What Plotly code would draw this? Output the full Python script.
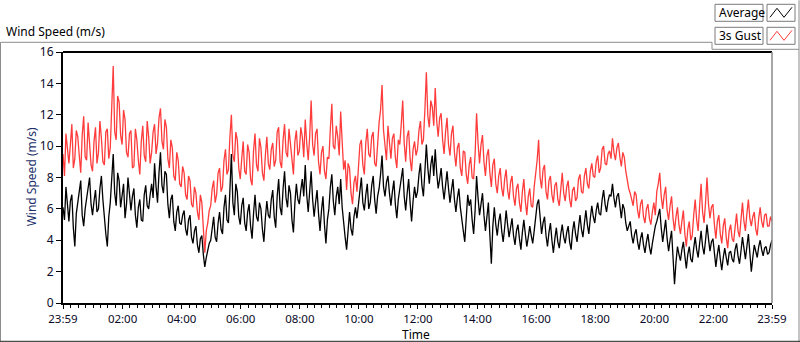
import plotly.graph_objects as go

# ---- data (3-minute samples from 23:59 to 23:59) ----
minutes_step = 3
gust = [
    9.5, 8.1, 10.8, 9.9, 8.9, 10.1, 11.4, 8.6, 9.2, 11.0, 10.6, 9.4, 8.3, 10.7, 11.9, 9.3, 9.1, 11.5, 10.2, 8.8,
    8.4, 10.3, 11.2, 8.9, 9.6, 11.6, 10.5, 9.0, 8.8, 10.9, 11.1, 9.2, 9.9, 12.4, 15.1, 10.9, 10.4, 13.2, 12.8, 10.7,
    10.1, 12.3, 11.7, 9.6, 9.3, 10.8, 11.0, 8.6, 8.7, 11.1, 10.4, 9.1, 8.2, 10.3, 11.3, 9.4, 9.0, 11.6, 10.6, 8.9,
    9.6, 10.9, 11.4, 9.5, 10.2, 11.8, 12.4, 10.3, 9.8, 11.7, 11.2, 9.2, 8.6, 10.4, 9.9, 8.1, 7.8, 9.6, 9.1, 7.6,
    7.4, 8.7, 8.3, 6.9, 6.6, 8.1, 7.8, 6.3, 6.1, 7.4, 7.0, 5.8, 5.3, 6.9, 6.4, 4.8, 3.2, 4.6, 5.1, 5.9,
    6.2, 7.3, 7.8, 6.4, 6.9, 8.3, 8.6, 7.1, 7.4, 9.1, 9.8, 8.2, 8.5, 10.6, 12.0, 9.4, 9.0, 10.9, 10.4, 8.6,
    7.9, 9.2, 10.3, 8.4, 8.2, 10.1, 9.6, 7.9, 7.5, 9.7, 10.8, 8.8, 8.4, 10.5, 9.9, 8.3, 7.8, 9.4, 10.6, 8.9,
    8.5, 9.8, 10.2, 8.7, 9.1, 10.9, 11.2, 9.0, 8.6, 10.4, 11.4, 9.6, 9.3, 11.1, 10.1, 8.8, 8.2, 10.3, 11.0, 9.4,
    9.7, 11.2, 10.6, 9.3, 11.7, 10.2, 9.1, 10.6, 12.9, 10.1, 9.4, 10.8, 11.1, 9.0, 8.2, 9.6, 10.0, 8.4, 7.9, 9.3,
    9.2, 11.1, 12.7, 10.0, 9.8, 11.3, 10.6, 9.4, 12.2, 10.3, 8.5, 9.1, 7.2, 8.9, 8.6, 7.0, 6.3, 7.7, 8.1, 7.1,
    8.9, 10.1, 10.4, 8.8, 8.2, 10.2, 11.1, 9.5, 9.3, 10.6, 10.9, 8.9, 8.7, 10.3, 11.5, 12.3, 13.9, 11.0, 10.2, 9.1,
    11.3, 10.2, 9.2, 10.5, 10.8, 9.3, 8.6, 10.4, 10.1, 11.4, 12.9, 10.2, 9.0, 10.6, 11.0, 9.2, 8.4, 9.8, 10.3, 9.4,
    9.8, 11.0, 11.6, 10.1, 10.4, 12.3, 14.7, 11.9, 11.2, 12.9, 12.5, 11.3, 13.7, 11.6, 10.6, 11.8, 12.1, 10.4, 9.5, 10.9,
    11.8, 10.1, 9.4, 10.8, 11.3, 9.6, 8.7, 9.9, 10.2, 8.6, 8.1, 9.7, 9.6, 8.2, 7.6, 8.8, 9.3, 8.0, 7.9, 9.5,
    12.1, 10.2, 8.9, 10.1, 10.7, 9.0, 8.1, 9.4, 9.8, 8.3, 7.4, 8.8, 9.2, 7.6, 7.0, 8.1, 8.6, 7.3, 6.8, 7.9,
    8.5, 7.2, 6.6, 7.7, 8.1, 6.8, 6.2, 7.3, 7.6, 6.4, 5.8, 7.1, 7.9, 6.5, 5.6, 6.8, 7.3, 6.2, 6.1, 7.4,
    8.2, 9.1, 10.4, 8.0, 7.3, 8.5, 8.8, 7.1, 6.6, 7.8, 8.1, 6.9, 6.4, 7.5, 7.7, 6.6, 6.2, 7.4, 8.3, 7.0,
    6.5, 7.4, 7.8, 6.6, 6.1, 7.2, 7.4, 6.5, 6.7, 7.9, 8.2, 7.1, 7.0, 8.1, 8.6, 7.6, 7.3, 8.4, 8.9, 8.1,
    8.0, 9.0, 9.4, 8.3, 8.6, 9.8, 10.0, 8.9, 8.8, 9.5, 9.7, 9.2, 10.5, 9.6, 9.1, 9.9, 10.2, 9.3, 8.7, 9.6,
    9.3, 8.4, 7.8, 7.3, 7.0, 6.5, 6.2, 7.1, 6.9, 5.9, 5.4, 6.3, 6.6, 5.5, 5.1, 6.0, 6.3, 5.4, 5.0, 5.8,
    6.4, 5.6, 7.1, 7.6, 8.3, 6.8, 6.0, 6.9, 7.4, 5.9, 5.3, 6.2, 6.8, 5.4, 4.6, 5.5, 6.1, 5.0, 4.4, 5.2,
    5.9, 4.4, 3.6, 4.7, 5.2, 4.0, 4.3, 5.6, 6.6, 5.3, 4.6, 6.2, 7.6, 5.8, 5.1, 6.4, 8.0, 6.3, 5.4, 6.1,
    6.3, 5.0, 4.1, 5.2, 5.6, 4.4, 3.8, 4.9, 5.4, 4.2, 3.5, 4.6, 5.0, 4.1, 3.9, 4.8, 5.7, 4.6, 4.2, 5.3,
    6.4, 5.2, 4.6, 5.7, 6.6, 5.4, 4.9, 5.5, 5.8, 4.7, 4.3, 5.4, 6.1, 5.2, 4.8, 5.6, 5.7, 4.9, 4.9, 5.5,
    5.2,
]
average = [
    6.1, 5.3, 7.4, 6.2, 5.2, 6.5, 6.9, 4.8, 3.6, 5.7, 6.3, 7.1, 7.8, 5.6, 4.9, 6.0, 6.6, 7.4, 8.0, 6.3,
    5.6, 6.5, 7.2, 5.8, 6.0, 7.3, 8.1, 6.6, 5.3, 4.4, 3.6, 5.5, 6.4, 7.8, 9.5, 7.0, 6.2, 8.3, 7.8, 6.1,
    6.8, 7.6, 5.4, 6.3, 8.0, 6.7, 5.9, 6.8, 7.3, 5.6, 4.8, 6.1, 6.6, 5.3, 5.2, 6.9, 7.5, 6.2, 6.0, 6.9,
    7.6, 6.7, 8.9, 7.4, 6.4, 8.3, 9.6, 7.5, 7.0, 8.4, 8.2, 6.3, 5.4, 6.6, 6.9, 5.2, 4.6, 5.8, 6.2, 5.1,
    5.0, 5.6, 5.9, 4.7, 4.3, 5.3, 5.6, 4.2, 3.8, 4.6, 4.9, 3.7, 3.2, 4.1, 4.3, 3.1, 2.3, 2.9, 3.4, 3.8,
    4.0, 4.8, 5.5, 4.2, 3.9, 5.1, 5.8, 4.7, 4.4, 6.1, 6.9, 5.3, 5.1, 7.2, 9.5, 6.4, 5.6, 7.6, 7.1, 5.5,
    5.0, 6.2, 6.7, 5.1, 4.6, 5.8, 6.3, 4.9, 4.1, 5.7, 6.9, 5.5, 5.2, 6.4, 6.0, 4.7, 3.9, 5.4, 6.5, 5.6,
    5.4, 6.6, 7.2, 5.5, 4.8, 6.8, 7.9, 6.1, 5.6, 7.3, 8.4, 6.7, 6.1, 7.5, 7.0, 5.3, 4.5, 6.4, 7.6, 6.6,
    6.3, 7.2, 7.9, 6.8, 8.8, 6.9, 5.8, 7.1, 8.4, 6.6, 5.5, 6.4, 7.2, 5.7, 4.6, 5.9, 6.8, 5.0, 3.8, 5.3,
    6.0, 7.4, 8.2, 6.5, 5.6, 6.8, 7.4, 6.3, 7.9, 6.1, 4.9, 4.2, 3.4, 4.8, 5.8, 4.7, 4.3, 5.5, 6.1, 5.4,
    6.2, 7.1, 8.0, 6.4, 5.9, 6.9, 7.6, 6.0, 6.4, 7.5, 8.1, 6.6, 5.7, 6.8, 7.3, 8.2, 9.4, 7.4, 6.8, 7.7,
    8.1, 7.0, 6.2, 7.1, 7.8, 6.3, 5.4, 6.6, 7.2, 7.9, 8.6, 6.8, 5.9, 7.0, 7.9, 6.4, 5.2, 6.5, 7.4, 6.7,
    7.1, 8.2, 8.9, 7.5, 6.8, 8.4, 10.1, 8.6, 7.6, 8.8, 9.4, 8.1, 9.8, 8.3, 7.3, 7.9, 8.6, 7.4, 6.6, 7.5,
    8.4, 7.3, 6.4, 7.2, 7.9, 6.6, 5.8, 6.7, 7.3, 6.1, 5.5, 4.6, 3.9, 5.8, 6.9, 6.2, 6.6, 5.3, 4.4, 5.9,
    8.1, 6.7, 5.6, 6.3, 7.0, 5.6, 4.6, 5.5, 6.4, 4.3, 2.5, 4.9, 6.1, 5.0, 4.3, 5.2, 5.7, 4.6, 3.9, 4.8,
    5.9, 5.0, 4.2, 4.8, 5.4, 4.3, 3.7, 4.6, 5.0, 4.1, 3.4, 4.5, 5.3, 4.4, 3.6, 4.2, 4.9, 4.3, 3.8, 4.6,
    5.7, 6.3, 6.6, 5.2, 4.4, 5.1, 5.5, 4.3, 3.6, 4.5, 5.1, 4.0, 3.2, 4.1, 4.8, 3.9, 3.5, 4.4, 5.0, 4.2,
    3.8, 4.5, 4.9, 3.9, 3.4, 4.6, 5.2, 4.4, 3.9, 4.8, 5.6, 4.7, 4.2, 5.1, 5.9, 5.0, 4.4, 5.4, 6.2, 5.5,
    5.1, 5.9, 6.4, 5.7, 5.6, 6.6, 7.2, 6.3, 5.8, 6.5, 6.9, 6.8, 7.6, 6.7, 6.1, 6.8, 7.0, 6.2, 5.4, 6.3,
    6.0, 5.1, 4.6, 4.9, 5.2, 4.3, 3.8, 4.4, 4.7, 3.9, 3.4, 4.1, 4.5, 3.7, 3.2, 3.9, 4.4, 3.6, 3.1, 3.8,
    4.5, 4.9, 5.2, 5.6, 6.0, 4.8, 3.9, 4.6, 5.3, 4.1, 3.3, 4.0, 4.6, 2.9, 1.2, 2.6, 3.6, 3.1, 2.7, 3.4,
    3.9, 3.0, 2.2, 3.1, 3.6, 2.8, 2.6, 3.5, 4.2, 3.4, 2.9, 3.8, 4.6, 3.6, 3.1, 4.0, 5.0, 4.1, 3.3, 3.9,
    4.1, 3.2, 2.3, 3.1, 3.7, 2.8, 2.1, 2.9, 3.5, 2.9, 2.4, 3.2, 3.3, 2.8, 2.6, 3.4, 3.8, 3.0, 2.5, 3.3,
    4.2, 3.5, 2.8, 3.6, 4.4, 3.2, 2.0, 2.9, 3.7, 3.3, 2.9, 3.6, 4.0, 3.4, 3.0, 3.5, 3.6, 3.1, 3.2, 3.7,
    4.0,
]
tick_minutes = [0, 121, 241, 361, 481, 601, 721, 841, 961, 1081, 1201, 1321, 1440]
tick_labels = ["23:59", "02:00", "04:00", "06:00", "08:00", "10:00", "12:00",
               "14:00", "16:00", "18:00", "20:00", "22:00", "23:59"]
series_names = ["Average", "3s Gust"]

times_g = [i * minutes_step for i in range(len(gust))]
times_a = [i * minutes_step for i in range(len(average))]

W, H = 800, 342
L, R, T, B = 63, 772, 51.7, 302.7
FONT = "Noto Sans"


def px(xp):
    return (xp - L) / (R - L)


def py(yp):
    return (B - yp) / (B - T)


fig = go.Figure()
fig.add_trace(go.Scatter(x=times_g, y=gust, mode="lines", name=series_names[1],
                         line=dict(color="#ff3c3c", width=1.3), showlegend=False))
fig.add_trace(go.Scatter(x=times_a, y=average, mode="lines", name=series_names[0],
                         line=dict(color="#000000", width=1.3), showlegend=False))

fig.update_layout(
    width=W, height=H,
    margin=dict(l=L, r=W - R, t=T, b=H - B, pad=0),
    paper_bgcolor="white", plot_bgcolor="white",
    font=dict(family=FONT, size=12, color="#000000"),
    xaxis=dict(range=[0, 1440], tickvals=tick_minutes, ticktext=tick_labels,
               ticks="outside", ticklen=4, tickwidth=1, tickcolor="#000",
               showgrid=False, zeroline=False, showline=True, linecolor="#000", linewidth=2,
               minor=dict(ticks="outside", ticklen=3, tickcolor="#000", tick0=1, dtick=15,
                          showgrid=False),
               tickfont=dict(size=11.5, family=FONT, color="#0a0a28")),
    yaxis=dict(range=[0, 16], dtick=2, ticks="outside", ticklen=5, tickcolor="#000",
               showgrid=False, zeroline=False, showline=True, linecolor="#000", linewidth=2,
               tickfont=dict(size=12, family=FONT, color="#0a0a28")),
)

shapes = []
shapes.append(dict(type="line", xref="paper", yref="paper", x0=0, x1=1, y0=1, y1=1,
                   line=dict(color="#000", width=2)))
shapes.append(dict(type="line", xref="paper", yref="paper", x0=1, x1=1, y0=0, y1=1,
                   line=dict(color="#8a8a8a", width=1.5)))
gray = "#8c8c8c"
for (x0, y0, x1, y1, c) in [(0.5, 42, 712, 42, gray), (712, 42, 712, 49, gray),
                             (712, 49, 799, 49, gray), (799, 0, 799, 342, gray),
                             (0.5, 42, 0.5, 341, gray), (0, 341, 800, 341, "#222")]:
    shapes.append(dict(type="line", xref="paper", yref="paper",
                       x0=px(x0), x1=px(x1), y0=py(y0), y1=py(y1),
                       line=dict(color=c, width=1)))
legend_rows = [(4, 21, "#000000"), (27, 44, "#ff3c3c")]
for (ya, yb, col) in legend_rows:
    shapes.append(dict(type="rect", xref="paper", yref="paper",
                       x0=px(715), x1=px(763), y0=py(yb), y1=py(ya),
                       line=dict(color="#7a7a7a", width=1), fillcolor="white"))
    shapes.append(dict(type="rect", xref="paper", yref="paper",
                       x0=px(767), x1=px(795), y0=py(yb), y1=py(ya),
                       line=dict(color="#7a7a7a", width=1), fillcolor="white"))
    pts = [(770, yb - 4), (777, ya + 4), (784, yb - 4), (792, ya + 3)]
    path = "M " + " L ".join(f"{px(a):.5f},{py(b):.5f}" for a, b in pts)
    shapes.append(dict(type="path", xref="paper", yref="paper", path=path,
                       line=dict(color=col, width=1)))
fig.update_layout(shapes=shapes)

ann = []
ann.append(dict(text="Wind Speed (m/s)", xref="paper", yref="paper", x=px(4), y=py(31),
                xanchor="left", yanchor="middle", showarrow=False,
                font=dict(size=12, family=FONT, color="#000")))
ann.append(dict(text="Wind Speed (m/s)", xref="paper", yref="paper", x=px(31), y=py(177),
                xanchor="center", yanchor="middle", textangle=-90, showarrow=False,
                font=dict(size=12, family=FONT, color="#1c2f6b")))
ann.append(dict(text="Time", xref="paper", yref="paper", x=px(416), y=py(334.5),
                xanchor="center", yanchor="middle", showarrow=False,
                font=dict(size=12, family=FONT, color="#000")))
for (ya, yb, col), name in zip(legend_rows, series_names):
    ann.append(dict(text=name, xref="paper", yref="paper", x=px(717), y=py((ya + yb) / 2),
                    xanchor="left", yanchor="middle", showarrow=False,
                    font=dict(size=12, family=FONT, color="#000")))
fig.update_layout(annotations=ann)

fig.write_html("out.html", post_script="document.body.style.margin='0px';",
               config={"displayModeBar": False})
